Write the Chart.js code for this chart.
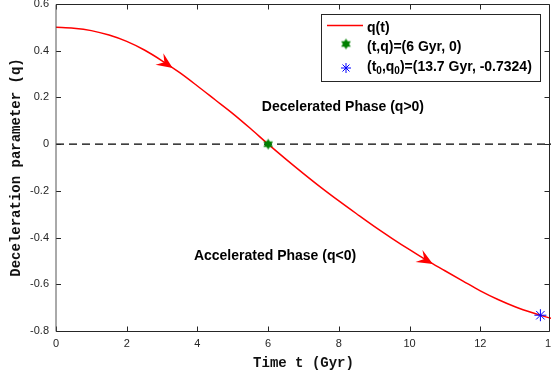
<!DOCTYPE html>
<html>
<head>
<meta charset="utf-8">
<script src="https://cdn.jsdelivr.net/npm/chart.js@4.4.1/dist/chart.umd.min.js"></script>
<style>
  html, body { margin: 0; padding: 0; background: #fff; }
  #wrap { width: 551px; height: 376px; }
</style>
</head>
<body>
<div id="wrap"><canvas id="myChart" width="551" height="376"></canvas></div>
<script>
// deceleration parameter q(t), sampled every 0.5 Gyr
const timeGyr = [0, 0.5, 1, 1.5, 2, 2.5, 3, 3.5, 4, 4.5, 5, 5.5, 6, 6.5, 7,
                 7.5, 8, 8.5, 9, 9.5, 10, 10.5, 11, 11.5, 12, 12.5, 13, 13.5, 14];
const qValues = [0.500, 0.496, 0.486, 0.467, 0.440, 0.403, 0.357, 0.306, 0.249, 0.190,
                 0.131, 0.067, 0.000, -0.064, -0.126, -0.186, -0.243, -0.298, -0.352,
                 -0.403, -0.452, -0.499, -0.542, -0.585, -0.628, -0.665, -0.697, -0.723, -0.746];

const xTicks = [0, 2, 4, 6, 8, 10, 12, 14];
const yTicks = [-0.8, -0.6, -0.4, -0.2, 0, 0.2, 0.4, 0.6];

const transitionPoint = [6, 0];          // q changes sign
const presentPoint = [13.7, -0.7324];    // t0, q0
const arrowTimes = [3.3, 10.66];         // direction arrows along q(t)

const legendLabels = ['q(t)', '(t,q)=(6 Gyr, 0)', '(t_0,q_0)=(13.7 Gyr, -0.7324)'];
const phaseLabels = ['Decelerated Phase (q>0)', 'Accelerated Phase (q<0)'];

const RED = '#ff0000';
const GREEN = '#008000';
const BLUE = '#0000ff';
const AXIS = '#262626';
const SANS = '"Liberation Sans", Arial, sans-serif';

// plot box inside the 551x376 canvas
const PLOT = {left: 56, right: 551, top: 4, bottom: 331};

// filled six-pointed star used as a point style
function hexagram(r, color) {
  const s = Math.ceil(r * 2 + 2);
  const c = document.createElement('canvas');
  c.width = s; c.height = s;
  const g = c.getContext('2d');
  g.translate(s / 2, s / 2);
  g.fillStyle = color;
  for (const rot of [-Math.PI / 2, Math.PI / 2]) {
    g.beginPath();
    for (let k = 0; k < 3; k++) {
      const a = rot + k * 2 * Math.PI / 3;
      const px = r * Math.cos(a), py = r * Math.sin(a);
      if (k === 0) g.moveTo(px, py); else g.lineTo(px, py);
    }
    g.closePath();
    g.fill();
  }
  return c;
}
const starImg = hexagram(5.5, GREEN);

function qAt(t) {
  for (let i = 0; i < timeGyr.length - 1; i++) {
    if (t >= timeGyr[i] && t <= timeGyr[i + 1]) {
      const f = (t - timeGyr[i]) / (timeGyr[i + 1] - timeGyr[i]);
      return qValues[i] + f * (qValues[i + 1] - qValues[i]);
    }
  }
  return qValues[qValues.length - 1];
}

// text with "_x" subscripts
function drawRich(ctx, text, x, y, size) {
  let cx = x;
  const parts = text.split(/(_.)/);
  for (const p of parts) {
    if (!p) continue;
    if (p[0] === '_') {
      ctx.font = 'bold ' + Math.round(size * 0.72) + 'px ' + SANS;
      ctx.fillText(p[1], cx, y + 4);
      cx += ctx.measureText(p[1]).width;
    } else {
      ctx.font = 'bold ' + size + 'px ' + SANS;
      ctx.fillText(p, cx, y);
      cx += ctx.measureText(p).width;
    }
  }
}

const decor = {
  id: 'decor',
  // pin the plot box so the last tick label runs off the edge
  afterLayout(chart) {
    const {x, y} = chart.scales;
    const area = chart.chartArea;
    Object.assign(area, PLOT, {width: PLOT.right - PLOT.left, height: PLOT.bottom - PLOT.top});
    Object.assign(x, {left: PLOT.left, right: PLOT.right, width: PLOT.right - PLOT.left,
                      top: PLOT.bottom, bottom: chart.height, height: chart.height - PLOT.bottom});
    Object.assign(y, {top: PLOT.top, bottom: PLOT.bottom, height: PLOT.bottom - PLOT.top,
                      left: 0, right: PLOT.left, width: PLOT.left});
    x.configure();
    y.configure();
  },
  beforeDatasetsDraw(chart) {
    const {ctx, scales: {x, y}} = chart;
    ctx.save();
    ctx.fillStyle = '#000';
    ctx.textBaseline = 'middle';
    ctx.font = 'bold 14px ' + SANS;
    ctx.fillText(phaseLabels[0], x.getPixelForValue(5.82), y.getPixelForValue(0.159));
    ctx.fillText(phaseLabels[1], x.getPixelForValue(3.9), y.getPixelForValue(-0.479));
    ctx.restore();
  },
  afterDatasetsDraw(chart) {
    const {ctx, chartArea: a, scales: {x, y}} = chart;
    ctx.save();

    // arrow heads along the curve
    ctx.fillStyle = RED;
    for (const t of arrowTimes) {
      const px = x.getPixelForValue(t), py = y.getPixelForValue(qAt(t));
      const bx = x.getPixelForValue(t - 0.1), by = y.getPixelForValue(qAt(t - 0.1));
      let dx = px - bx, dy = py - by;
      const len = Math.hypot(dx, dy);
      dx /= len; dy /= len;
      const nx = -dy, ny = dx;
      const L = 16, W = 7, notch = 10;
      ctx.beginPath();
      ctx.moveTo(px, py);
      ctx.lineTo(px - L * dx + W * nx, py - L * dy + W * ny);
      ctx.lineTo(px - notch * dx, py - notch * dy);
      ctx.lineTo(px - L * dx - W * nx, py - L * dy - W * ny);
      ctx.closePath();
      ctx.fill();
    }

    // box and inward ticks
    ctx.strokeStyle = AXIS;
    ctx.lineWidth = 1;
    const L0 = Math.round(a.left), R0 = Math.round(a.right) - 1.5;
    const T0 = Math.round(a.top) + 0.5, B0 = Math.round(a.bottom) + 0.5;
    ctx.beginPath();
    ctx.moveTo(L0, T0); ctx.lineTo(R0, T0); ctx.lineTo(R0, B0); ctx.lineTo(L0, B0);
    for (const v of xTicks) {
      const px = Math.round(x.getPixelForValue(v)) + 0.5;
      ctx.moveTo(px, B0); ctx.lineTo(px, B0 - 5);
      ctx.moveTo(px, T0); ctx.lineTo(px, T0 + 5);
    }
    for (const v of yTicks) {
      const py = Math.round(y.getPixelForValue(v)) + 0.5;
      ctx.moveTo(L0, py); ctx.lineTo(L0 + 5, py);
      ctx.moveTo(R0, py); ctx.lineTo(R0 - 5, py);
    }
    ctx.stroke();
    ctx.beginPath();
    ctx.strokeStyle = '#555';
    ctx.moveTo(L0, T0); ctx.lineTo(L0, B0);
    ctx.stroke();
    ctx.restore();
  },
  afterDraw(chart) {
    const {ctx} = chart;
    ctx.save();
    // legend
    ctx.fillStyle = '#fff';
    ctx.fillRect(321, 14, 220, 68);
    ctx.strokeStyle = '#262626';
    ctx.lineWidth = 1;
    ctx.strokeRect(321.5, 14.5, 219, 67);

    ctx.strokeStyle = RED;
    ctx.lineWidth = 1.5;
    ctx.beginPath();
    ctx.moveTo(327, 25.5); ctx.lineTo(363, 25.5);
    ctx.stroke();

    ctx.drawImage(starImg, 346 - starImg.width / 2, 44 - starImg.height / 2);

    ctx.strokeStyle = BLUE;
    ctx.lineWidth = 1;
    ctx.beginPath();
    const ax = 346, ay = 68, r = 5;
    ctx.moveTo(ax - r, ay); ctx.lineTo(ax + r, ay);
    ctx.moveTo(ax, ay - r); ctx.lineTo(ax, ay + r);
    ctx.moveTo(ax - r * 0.7, ay - r * 0.7); ctx.lineTo(ax + r * 0.7, ay + r * 0.7);
    ctx.moveTo(ax - r * 0.7, ay + r * 0.7); ctx.lineTo(ax + r * 0.7, ay - r * 0.7);
    ctx.stroke();

    ctx.fillStyle = '#000';
    ctx.textBaseline = 'middle';
    drawRich(ctx, legendLabels[0], 367, 28, 14);
    drawRich(ctx, legendLabels[1], 367, 47, 14);
    drawRich(ctx, legendLabels[2], 367, 67, 14);
    ctx.restore();
  }
};

const ctx = document.getElementById('myChart');

new Chart(ctx, {
  type: 'line',
  data: {
    datasets: [
      {
        label: 'q(t)',
        data: timeGyr.map((t, i) => ({x: t, y: qValues[i]})),
        borderColor: RED,
        borderWidth: 1.5,
        pointRadius: 0,
        cubicInterpolationMode: 'monotone',
        order: 3
      },
      {
        label: 'q = 0',
        data: [{x: xTicks[0], y: 0}, {x: xTicks[xTicks.length - 1], y: 0}],
        borderColor: '#000',
        borderWidth: 1.3,
        borderDash: [8, 5],
        pointRadius: 0,
        order: 4
      },
      {
        label: 'transition',
        data: [{x: transitionPoint[0], y: transitionPoint[1]}],
        pointStyle: starImg,
        showLine: false,
        order: 1
      },
      {
        label: 'present',
        data: [{x: presentPoint[0], y: presentPoint[1]}],
        pointStyle: 'star',
        pointRadius: 6,
        pointBorderColor: BLUE,
        pointBorderWidth: 1,
        borderColor: BLUE,
        showLine: false,
        clip: false,
        order: 1
      }
    ]
  },
  options: {
    responsive: false,
    animation: false,
    devicePixelRatio: 1,
    layout: {padding: {top: 4, right: 0, left: 0, bottom: 0}},
    plugins: {legend: {display: false}, tooltip: {enabled: false}},
    scales: {
      x: {
        type: 'linear',
        min: 0,
        max: 14,
        afterBuildTicks: s => { s.ticks = xTicks.map(v => ({value: v})); },
        ticks: {
          color: AXIS,
          padding: 6,
          maxRotation: 0,
          autoSkip: false,
          font: {family: SANS, size: 11}
        },
        grid: {display: false, drawTicks: false},
        border: {display: false},
        title: {
          display: true,
          text: 'Time t (Gyr)',
          color: '#111',
          font: {family: '"Liberation Mono", "Courier New", monospace', size: 14, weight: 'bold'},
          padding: {top: 4, bottom: 4}
        }
      },
      y: {
        min: -0.8,
        max: 0.6,
        afterBuildTicks: s => { s.ticks = yTicks.map(v => ({value: v})); },
        ticks: {
          color: AXIS,
          padding: 7,
          autoSkip: false,
          font: {family: SANS, size: 11},
          callback: v => String(Math.round(v * 10) / 10)
        },
        grid: {display: false, drawTicks: false},
        border: {display: false},
        title: {
          display: true,
          text: 'Deceleration parameter (q)',
          color: '#111',
          font: {family: '"Liberation Mono", "Courier New", monospace', size: 14, weight: 'bold'},
          padding: {top: 8, bottom: 4}
        }
      }
    }
  },
  plugins: [decor]
});
</script>
</body>
</html>
